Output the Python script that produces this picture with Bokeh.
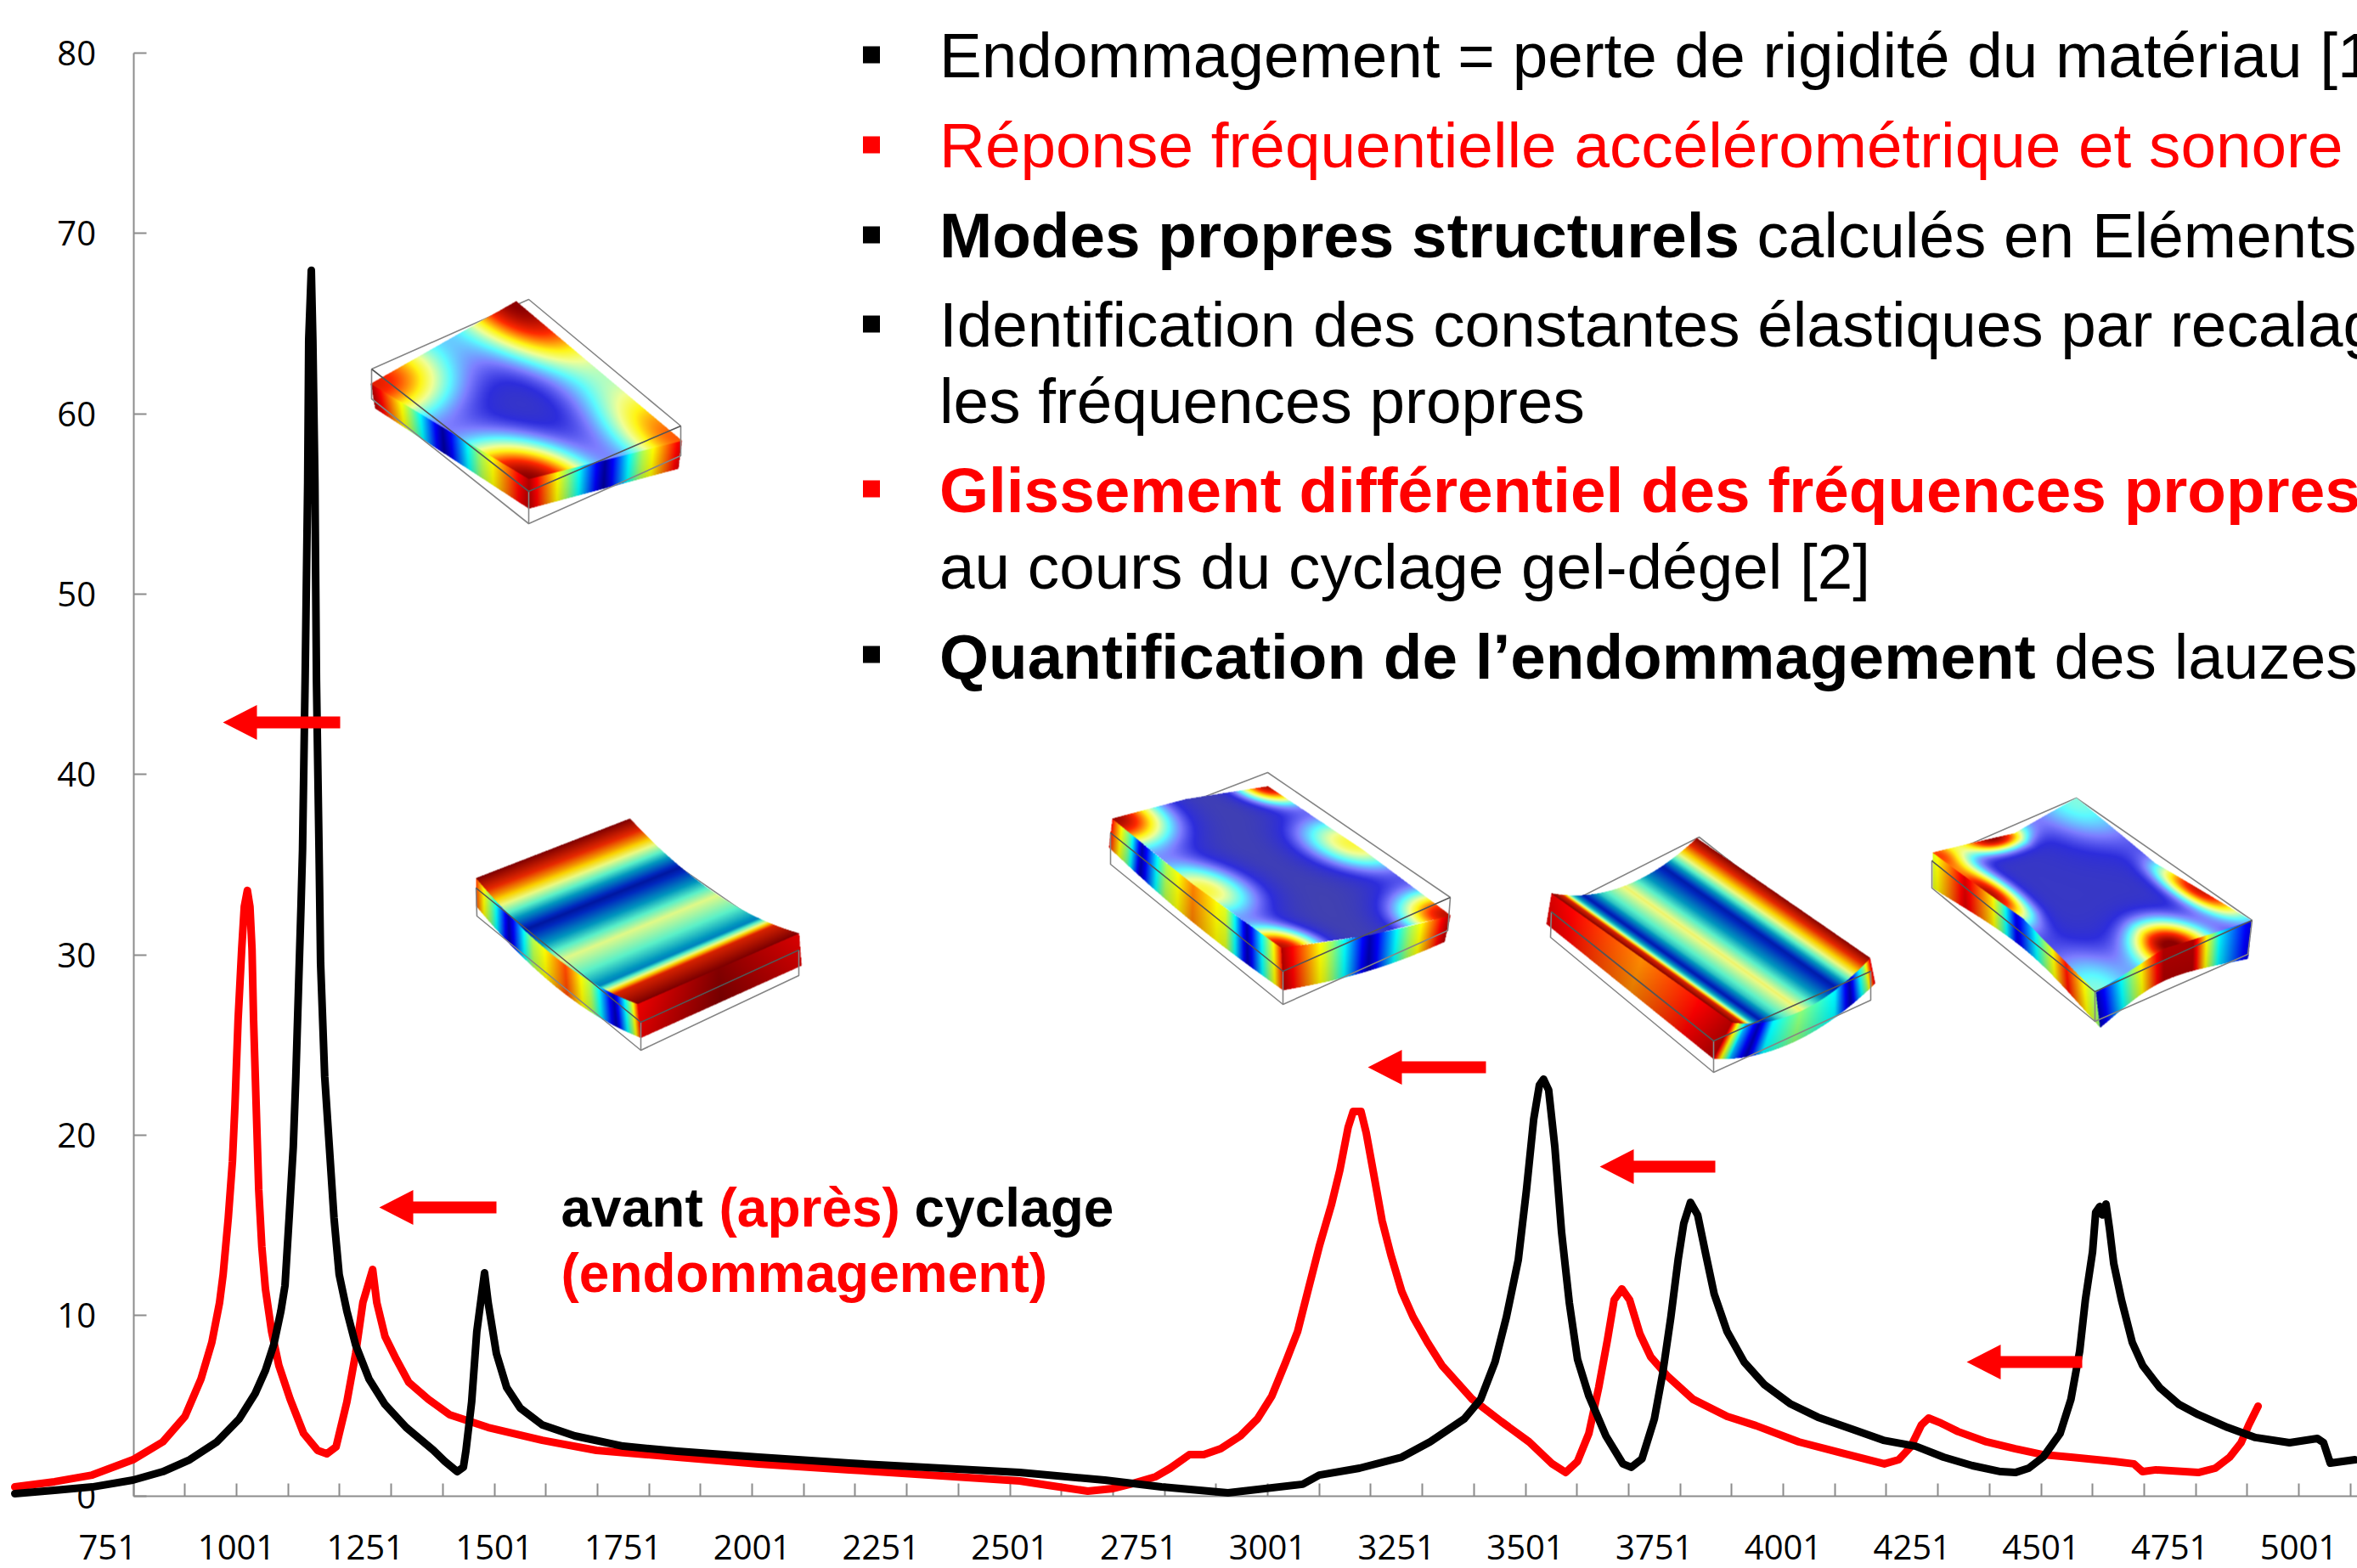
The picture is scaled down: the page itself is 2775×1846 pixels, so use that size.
import numpy as np
from bokeh.plotting import figure
from bokeh.models import Range1d, LinearAxis, FixedTicker
from bokeh.core.properties import value
from bokeh.embed import file_html
from bokeh.resources import INLINE

# ---------- data ----------
black_freq = [571,648,721,800,858,910,963,1006,1037,1057,1073,1087,1095,1103,1111,1116,1121,1126,1129,1134,1139,1141,1146,1149,1153,1156,1161,1164,1172,1181,1190,1200,1215,1232,1258,1289,1330,1383,1405,1429,1441,1446,1457,1467,1482,1489,1505,1525,1551,1594,1657,1751,1856,2014,2190,2520,2685,2795,2924,3069,3101,3179,3261,3316,3382,3414,3442,3464,3487,3503,3517,3528,3536,3546,3558,3571,3586,3602,3624,3657,3690,3706,3727,3751,3767,3783,3797,3808,3821,3835,3851,3867,3892,3925,3965,4014,4068,4139,4195,4258,4312,4368,4423,4451,4477,4505,4538,4559,4576,4587,4601,4607,4615,4620,4627,4634,4642,4657,4678,4698,4731,4769,4806,4863,4917,4983,5037,5049,5062,5110]
black_amp = [.13,.32,.50,.88,1.35,2.01,3.00,4.27,5.68,6.96,8.37,10.25,11.67,15.43,19.34,23.25,27.96,32.67,35.83,45.25,56.22,64.09,67.95,64.09,56.22,45.25,35.83,29.56,23.25,19.34,15.43,12.28,10.25,8.37,6.48,5.07,3.80,2.53,1.92,1.35,1.59,2.53,5.21,9.12,12.37,10.72,7.90,6.01,4.88,3.94,3.33,2.76,2.48,2.15,1.82,1.30,.88,.50,.17,.65,1.16,1.54,2.15,3.00,4.27,5.36,7.43,9.92,13.08,16.99,20.90,22.78,23.11,22.50,19.34,14.63,10.72,7.57,5.54,3.33,1.78,1.59,2.06,4.27,6.77,9.92,13.08,15.11,16.28,15.58,13.36,11.2,9.12,7.43,6.16,5.12,4.37,3.66,3.09,2.76,2.15,1.68,1.35,1.30,1.54,2.15,3.47,5.36,8.04,10.87,13.55,15.72,16.05,15.58,16.19,14.78,12.89,10.87,8.51,7.24,6.01,5.07,4.51,3.80,3.24,2.95,3.19,2.95,1.82,2.01]
red_freq = [571,648,721,800,858,901,932,953,968,975,985,993,998,1004,1011,1016,1022,1027,1031,1034,1039,1044,1050,1057,1069,1083,1105,1131,1158,1176,1194,1215,1232,1246,1265,1273,1289,1311,1335,1373,1414,1489,1594,1699,1856,2014,2190,2520,2574,2652,2701,2739,2784,2812,2849,2877,2910,2948,2981,3009,3036,3059,3080,3101,3125,3141,3157,3167,3182,3192,3207,3223,3240,3261,3283,3311,3339,3398,3454,3508,3553,3579,3602,3624,3643,3660,3673,3688,3703,3723,3744,3777,3826,3892,3948,4031,4113,4197,4225,4248,4269,4283,4307,4340,4395,4451,4505,4559,4642,4681,4698,4724,4806,4839,4867,4889,4904,4922]
red_amp = [.50,.79,1.16,2.01,3.00,4.41,6.48,8.51,10.72,12.28,15.43,18.54,21.70,26.41,30.32,32.67,33.57,32.67,30.32,26.41,21.70,16.99,13.83,11.48,9.12,7.24,5.36,3.47,2.53,2.34,2.72,5.21,7.90,10.72,12.56,10.72,8.84,7.57,6.30,5.36,4.51,3.80,3.09,2.53,2.15,1.78,1.45,.83,.60,.27,.41,.69,1.07,1.54,2.29,2.29,2.62,3.33,4.27,5.54,7.43,9.12,11.48,13.83,16.19,18.07,20.43,21.32,21.32,20.15,17.79,15.25,13.36,11.34,9.92,8.51,7.24,5.36,4.13,3.00,1.78,1.30,1.92,3.47,6.01,8.65,10.87,11.48,10.87,8.98,7.71,6.63,5.36,4.41,3.90,3.00,2.39,1.78,2.01,2.72,3.94,4.32,4.04,3.57,3.00,2.62,2.29,2.15,1.92,1.78,1.35,1.45,1.30,1.54,2.15,2.95,3.94,4.98]
x_tick_labels = [751,1001,1251,1501,1751,2001,2251,2501,2751,3001,3251,3501,3751,4001,4251,4501,4751,5001]
x_tick_marks = list(range(801, 5102, 100))
y_ticks = [0,10,20,30,40,50,60,70,80]

bullet_lines = [
    ("Endommagement = perte de rigidité du matériau [1", 1105.5, 90.5, "#000000", "normal"),
    ("Réponse fréquentielle accélérométrique et sonore", 1105.5, 196.5, "#ff0000", "normal"),
    ("Modes propres structurels", 1105.5, 302.5, "#000000", "bold"),
    ("calculés en Eléments", 2068, 302.5, "#000000", "normal"),
    ("Identification des constantes élastiques par recalag", 1105.5, 407.5, "#000000", "normal"),
    ("les fréquences propres", 1105.5, 497.5, "#000000", "normal"),
    ("Glissement différentiel des fréquences propres", 1105.5, 602.5, "#ff0000", "bold"),
    ("au cours du cyclage gel-dégel [2]", 1105.5, 692.5, "#000000", "normal"),
    ("Quantification de l’endommagement", 1105.5, 798.5, "#000000", "bold"),
    ("des lauzes", 2418, 798.5, "#000000", "normal"),
]
bullet_marks = [(1025.5, 64, "#000000"), (1025.5, 170, "#ff0000"), (1025.5, 276, "#000000"),
                (1025.5, 381, "#000000"), (1025.5, 575, "#ff0000"), (1025.5, 770, "#000000")]
note_lines = [
    ("avant", 660, 1444, "#000000"), ("(après)", 846, 1444, "#ff0000"), ("cyclage", 1076, 1444, "#000000"),
    ("(endommagement)", 660, 1521, "#ff0000"),
]
arrows = [(262, 400, 850), (446, 584, 1421), (1610, 1749, 1256), (1883, 2019, 1373), (2315, 2451, 1603)]

# ---------- page geometry (page px -> data) ----------
W, H = 2775, 1846
OX, OY = 0, 0
fx = lambda X: 1001 + (np.asarray(X, float) - 278) / 0.607
fy = lambda Y: (1760.7 - np.asarray(Y, float)) / 21.235

p = figure(width=W, height=H, output_backend="svg", toolbar_location=None,
           x_range=Range1d(float(fx(OX)), float(fx(OX + W))),
           y_range=Range1d(float(fy(OY + H)), float(fy(OY))),
           min_border=0, min_border_left=0, min_border_right=0, min_border_top=0, min_border_bottom=0,
           x_axis_type=None, y_axis_type=None, outline_line_color=None)
p.grid.visible = False

AXC = "#8c8c8c"
yax = LinearAxis(ticker=FixedTicker(ticks=y_ticks), fixed_location=801, bounds=(0, 80),
                 axis_line_color=AXC, axis_line_width=2, major_tick_line_color=AXC, major_tick_line_width=2,
                 major_tick_in=15, major_tick_out=0, minor_tick_in=0, minor_tick_out=0,
                 major_label_standoff=44, major_label_text_font="Open Sans", major_label_text_font_size="40px",
                 major_label_text_color="#000000", level="underlay")
p.add_layout(yax, "left")
xax = LinearAxis(ticker=FixedTicker(ticks=[], minor_ticks=x_tick_marks), fixed_location=0, bounds=(801, float(fx(OX + W))),
                 axis_line_color=AXC, axis_line_width=2, minor_tick_line_color=AXC, minor_tick_line_width=2,
                 minor_tick_in=15, minor_tick_out=0, major_tick_in=0, major_tick_out=0, level="underlay")
p.add_layout(xax, "below")
p.text(x_tick_labels, [float(fy(1821))] * len(x_tick_labels), text=[str(t) for t in x_tick_labels],
       text_color="#000000", text_font=value("Open Sans"), text_font_size="40px",
       text_align="center", text_baseline="middle")

# ---------- finite-element plates (decorative pictures) ----------
def cmap_vals(t, stops):
    ts = [s[0] for s in stops]
    return np.stack([np.interp(t, ts, [s[c + 1] for s in stops]) for c in range(3)], axis=-1)

LIGHT = [(0, 70, 70, 165), (.14, 45, 45, 220), (.24, 125, 125, 255), (.36, 90, 250, 255), (.5, 240, 255, 150),
         (.6, 255, 245, 20), (.8, 255, 40, 0), (1, 140, 0, 0)]
DEEP = [(0, 0, 0, 120), (.14, 0, 40, 190), (.3, 0, 150, 190), (.42, 90, 240, 200), (.56, 235, 250, 130),
        (.66, 250, 210, 0), (.82, 230, 40, 0), (1, 125, 0, 0)]
SIDE = [(0, 0, 0, 130), (.14, 0, 0, 255), (.36, 0, 255, 255), (.5, 140, 255, 120), (.64, 255, 255, 0),
        (.86, 255, 0, 0), (1, 130, 0, 0)]

def bilin(L, T, R, B, u, v):
    L, T, R, B = map(lambda a: np.array(a, float), (L, T, R, B))
    U, V = u[..., None], v[..., None]
    return (1 - U) * (1 - V) * L + U * (1 - V) * T + U * V * R + (1 - U) * V * B

def bumps(u, v, base, items):
    t = np.full(u.shape, base, float)
    for (cu, cv, a, su, sv) in items:
        t = t + a * np.exp(-((u - cu) / su) ** 2 - ((v - cv) / sv) ** 2)
    return np.clip(t, 0, 1)

def paint(buf, box, P, col):
    ix = np.round((P[..., 0] - box[0]) * 2).astype(int)
    iy = np.round((P[..., 1] - box[1]) * 2).astype(int)
    ok = (ix >= 0) & (iy >= 0) & (ix < buf.shape[1]) & (iy < buf.shape[0])
    buf[iy[ok], ix[ok], :3] = col[ok]

def plate(top, low, wire, field, stops, left, right, sag=(0, 0), k=0.0):
    L, T, R, B = top
    Lb, Bb, Rb = low
    all_pts = np.array(list(top) + list(low))
    box = (int(all_pts[:, 0].min()) - 12, int(all_pts[:, 1].min()) - 12,
           int(all_pts[:, 0].max()) + 12, int(all_pts[:, 1].max()) + 30)
    w2, h2 = (box[2] - box[0]) * 2, (box[3] - box[1]) * 2
    buf = np.zeros((h2, w2, 4), float)
    buf[..., :3] = 255
    mask = np.zeros((h2, w2), float)
    def disp(u, v):
        return sag[0] * (1 - (2 * u - 1) ** 2) + sag[1] * (1 - (2 * v - 1) ** 2)
    s, w = np.meshgrid(np.linspace(0, 1, 1500), np.linspace(0, 1, 260))
    def mark(P):
        ix = np.round((P[..., 0] - box[0]) * 2).astype(int)
        iy = np.round((P[..., 1] - box[1]) * 2).astype(int)
        ok = (ix >= 0) & (iy >= 0) & (ix < w2) & (iy < h2)
        mask[iy[ok], ix[ok]] = 255
    for (a, b, c, d, tab, side_is_left) in ((L, B, Lb, Bb, left, True), (B, R, Bb, Rb, right, False)):
        a, b, c, d = map(lambda q: np.array(q, float), (a, b, c, d))
        S, WW = s[..., None], w[..., None]
        P = (1 - WW) * ((1 - S) * a + S * b) + WW * ((1 - S) * c + S * d)
        dy = disp(np.zeros_like(s), s) if side_is_left else disp(s, np.ones_like(s))
        P = P.copy()
        P[..., 1] += dy
        if k:
            C = all_pts[:4].mean(axis=0)
            P = P + (C - P) * (k * np.sin(np.pi * s))[..., None]
        t = np.interp(s, tab[0], tab[1])
        col = cmap_vals(t, SIDE) * (1 - 0.12 * w)[..., None]
        paint(buf, box, P, col)
        mark(P)
    u, v = np.meshgrid(np.linspace(0, 1, 1500), np.linspace(0, 1, 1500))
    P = bilin(L, T, R, B, u, v).copy()
    P[..., 1] += disp(u, v)
    if k:
        C = np.array(top, float).mean(axis=0)
        wgt = 1 - np.abs(2 * u - 1) * np.abs(2 * v - 1)
        P = P + (C - P) * (k * wgt)[..., None]
    paint(buf, box, P, cmap_vals(field(u, v), stops))
    mark(P)
    buf[..., 3] = mask
    h1, w1 = h2 // 2, w2 // 2
    a = buf[:h1 * 2, :w1 * 2].reshape(h1, 2, w1, 2, 4).mean(axis=(1, 3))
    img = np.round(a).astype(np.uint8)
    img = np.flipud(img).copy()
    rgba = img.view(np.uint32).reshape(h1, w1)
    LT, BT, RT, BK, LB, BB, RB = wire
    line = lambda pts, lw=1.6, c="#858585": p.line(fx([q[0] for q in pts]), fy([q[1] for q in pts]),
                                                   line_color=c, line_width=lw)
    line([LT, BK, RT])
    p.image_rgba(image=[rgba], x=float(fx(box[0])), y=float(fy(box[1] + h1)),
                 dw=float(fx(box[0] + w1) - fx(box[0])), dh=float(fy(box[1]) - fy(box[1] + h1)))
    line([LT, LB, BB, RB, RT])
    line([BT, BB])
    line([LT, BT, RT], 1.6, "#555555")

plate(((436, 451), (607, 354), (802, 518), (622, 563)), ((441, 480), (622, 598), (798, 551)),
      ((437, 434), (622, 578), (801, 501), (622, 352), (437, 469), (622, 616), (801, 536)),
      lambda u, v: bumps(u, v, .0, [(0, 0, .85, .44, .34), (1, 0, 1.0, .32, .42), (0, 1, 1.0, .36, .36),
                                    (1, 1, .75, .36, .44)]),
      LIGHT, ([0, .2, .45, .7, 1], [.95, .62, .03, .55, .95]), ([0, .2, .5, .75, 1], [.95, .62, .03, .55, .9]))

plate(((560, 1033), (741, 963), (940, 1098), (750, 1181)), ((560, 1066), (754, 1221), (943, 1136)),
      ((560, 1045), (754, 1203), (940, 1118), (741, 980), (561, 1078), (754, 1236), (940, 1148)),
      lambda u, v: np.interp(v, [0, .1, .3, .52, .64, .76, .86, 1], [1, .72, .08, .55, .42, .27, .85, 1]),
      DEEP, ([0, .1, .2, .35, .55, .7, .85, .95, 1], [.8, .45, .05, .55, .8, .55, .05, .5, .85]),
      ([0, .5, 1], [.88, 1, .9]), sag=(0, 20))

plate(((1309, 963), (1492, 925), (1707, 1077), (1508, 1115)), ((1305, 997), (1510, 1165), (1700, 1108)),
      ((1307, 980), (1510, 1143), (1707, 1056), (1492, 909), (1307, 1017), (1510, 1182), (1704, 1095)),
      lambda u, v: bumps(u, v, .02, [(0, 0, .95, .30, .21), (1, 0, .90, .18, .13), (1, 1, .90, .26, .18),
                                     (0, 1, .90, .20, .15), (1, .45, .55, .26, .20), (0, .55, .55, .26, .20)]),
      LIGHT, ([0, .12, .2, .35, .5, .68, .8, .92, 1], [.85, .45, .05, .55, .75, .6, .05, .5, .85]),
      ([0, .25, .5, .75, 1], [.95, .6, .05, .55, .95]), k=-0.05)

plate(((1826, 1051), (1997, 986), (2201, 1127), (2039, 1203)), ((1820, 1087), (2017, 1246), (2207, 1157)),
      ((1826, 1073), (2017, 1225), (2202, 1143), (2000, 985), (1825, 1103), (2017, 1262), (2202, 1177)),
      lambda u, v: np.interp(u, [0, .07, .14, .22, .33, .5, .65, .76, .88, 1], [.98, .85, .38, .1, .36, .58, .3, .1, .58, .98]),
      DEEP, ([0, .3, .5, .8, 1], [.9, .8, .74, .85, .95]),
      ([0, .1, .2, .3, .5, .75, .85, .95, 1], [.9, .3, .05, .35, .5, .35, .05, .5, .9]), sag=(24, 0))

plate(((2275, 1003), (2444, 939), (2650, 1083), (2467, 1167)), ((2275, 1045), (2472, 1209), (2646, 1128)),
      ((2274, 1013), (2466, 1167), (2651, 1083), (2444, 939), (2274, 1045), (2466, 1202), (2646, 1123)),
      lambda u, v: bumps(u, v, .08, [(.35, 0, .90, .20, .09), (1, .75, .80, .12, .22), (0, .30, .85, .12, .22),
                                     (.55, 1, .95, .20, .18), (1, 0, .32, .30, .30), (0, 0, .50, .12, .12),
                                     (0, 1, .32, .24, .24)]),
      LIGHT, ([0, .15, .3, .45, .6, .8, 1], [.6, .9, .65, .1, .4, .85, .5]),
      ([0, .25, .5, .7, .85, 1], [.05, .5, .95, .95, .35, .1]), k=0.12)

# ---------- curves ----------
p.line(red_freq, red_amp, line_color="#ff0000", line_width=9, line_join="round", line_cap="round")
p.line(black_freq, black_amp, line_color="#000000", line_width=9, line_join="round", line_cap="round")

# ---------- arrows ----------
for tip, end, y in arrows:
    xs = [tip, tip + 40, tip + 40, end, end, tip + 40, tip + 40]
    ys = [y, y - 20.5, y - 7, y - 7, y + 7, y + 7, y + 20.5]
    p.patch(fx(xs), fy(ys), fill_color="#ff0000", line_color=None)

# ---------- texts (baseline correction of 0.35 em) ----------
BIG, SMALL = 74.7, 64
for txt, X, Y, col, wt in bullet_lines:
    p.text([float(fx(X))], [float(fy(Y - 0.35 * BIG))], text=[txt], text_color=col, text_font=value("Liberation Sans"),
           text_font_size=f"{BIG}px", text_font_style=wt, text_baseline="alphabetic", text_align="left")
for X, Y, col in bullet_marks:
    p.quad(left=float(fx(X - 10)), right=float(fx(X + 10)), top=float(fy(Y - 10)), bottom=float(fy(Y + 10)),
           fill_color=col, line_color=None)
for txt, X, Y, col in note_lines:
    p.text([float(fx(X))], [float(fy(Y - 0.35 * SMALL))], text=[txt], text_color=col, text_font=value("Liberation Sans"),
           text_font_size=f"{SMALL}px", text_font_style="bold", text_baseline="alphabetic", text_align="left")

open("out.html", "w").write(file_html(p, INLINE))
